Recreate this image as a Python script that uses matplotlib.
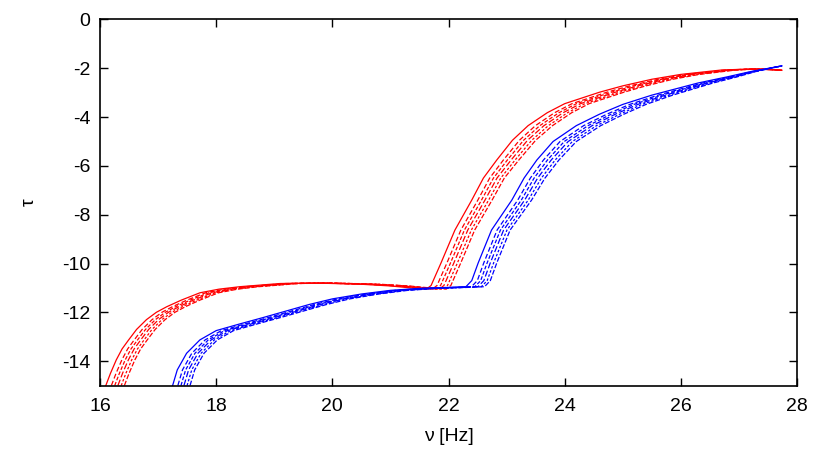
# tau(nu) families, gnuplot-like look

import numpy as np
import matplotlib.pyplot as plt

# solid curve of each family
nu_red = [16.10, 16.18, 16.28, 16.38, 16.49, 16.63, 16.80, 16.97, 17.15, 17.40,
          17.72, 18.05, 18.41, 19.10, 19.70, 20.50, 21.00, 21.35, 21.62, 21.70,
          21.87, 22.11, 22.40, 22.60, 22.83, 23.10, 23.37, 23.70, 24.00, 24.60, 25.00,
          25.50, 26.00, 26.70, 27.20, 27.50, 27.74]
tau_red = [-15.0, -14.5, -13.95, -13.5, -13.14, -12.7, -12.3, -12.0, -11.77, -11.5,
           -11.2, -11.05, -10.95, -10.82, -10.80, -10.85, -10.92, -11.0, -11.05, -10.9,
           -9.98, -8.63, -7.4, -6.5, -5.76, -4.95, -4.35, -3.82, -3.45, -2.98, -2.72,
           -2.45, -2.25, -2.07, -2.03, -2.05, -2.08]
# nu shift of the outermost dashed curve at each point
band_red = [0.32, 0.32, 0.32, 0.32, 0.32, 0.32, 0.32, 0.32, 0.32, 0.32,
            0.32, 0.32, 0.32, 0.32, 0.32, 0.32, 0.32, 0.33, 0.34, 0.34,
            0.34, 0.34, 0.35, 0.36, 0.38, 0.40, 0.42, 0.42, 0.42, 0.42, 0.40,
            0.36, 0.32, 0.25, 0.12, 0.05, 0.0]

nu_blue = [17.25, 17.33, 17.49, 17.72, 18.00, 18.40, 18.80, 19.20, 19.60, 20.00,
           20.50, 21.00, 21.50, 22.00, 22.30, 22.40, 22.51, 22.74, 23.09, 23.30, 23.52,
           23.80, 24.20, 24.60, 25.00, 25.50, 26.30, 26.80, 27.19, 27.74]
tau_blue = [-15.0, -14.36, -13.68, -13.13, -12.75, -12.48, -12.22, -11.95, -11.68, -11.45,
            -11.25, -11.1, -11.02, -10.98, -10.95, -10.7, -9.98, -8.63, -7.4, -6.5, -5.76,
            -5.0, -4.35, -3.88, -3.48, -3.1, -2.6, -2.35, -2.14, -1.9]
band_blue = [0.30, 0.30, 0.30, 0.30, 0.30, 0.30, 0.30, 0.30, 0.30, 0.30,
             0.30, 0.30, 0.31, 0.32, 0.32, 0.32, 0.32, 0.32, 0.34, 0.36, 0.38,
             0.40, 0.42, 0.42, 0.40, 0.36, 0.26, 0.17, 0.09, 0.0]

# where each curve sits inside the band (0 = the solid one)
fractions = [0.0, 0.3, 0.48, 0.65, 0.83, 1.0]
styles = ['-', (0, (4, 2)), (0, (3, 1.5)), (0, (5, 2)), (0, (2, 1.5)), (0, (4, 1.5))]

plt.rcParams['font.family'] = ['Liberation Sans', 'DejaVu Sans']
plt.rcParams['axes.unicode_minus'] = False

fig = plt.figure(figsize=(8.3, 4.51), dpi=100)
ax = fig.add_axes([0.1205, 0.1452, 0.8398, 0.8116])

for nu, tau, band, col in [(nu_red, tau_red, band_red, 'red'),
                           (nu_blue, tau_blue, band_blue, 'blue')]:
    nu = np.array(nu)
    band = np.array(band)
    for f, ls in zip(fractions, styles):
        ax.plot(nu + f*band, tau, color=col, lw=0.9, ls=ls)

ax.set_xlim(16, 28)
ax.set_ylim(-15, 0)
ax.set_xticks(np.arange(16, 29, 2))
ax.set_yticks(np.arange(-14, 1, 2))
ax.tick_params(direction='in', length=6, width=1, top=True, right=True,
               labelsize=14, colors='black')
ax.tick_params(axis='x', pad=9)
ax.tick_params(axis='y', pad=7)
for s in ax.spines.values():
    s.set_linewidth(1.2)

ax.set_xlabel('ν [Hz]', fontsize=14)
ax.xaxis.set_label_coords(0.5, -0.115)
ax.set_ylabel('τ', fontsize=14)
ax.yaxis.set_label_coords(-0.09, 0.5)

fig.savefig('out.png', dpi=100)
